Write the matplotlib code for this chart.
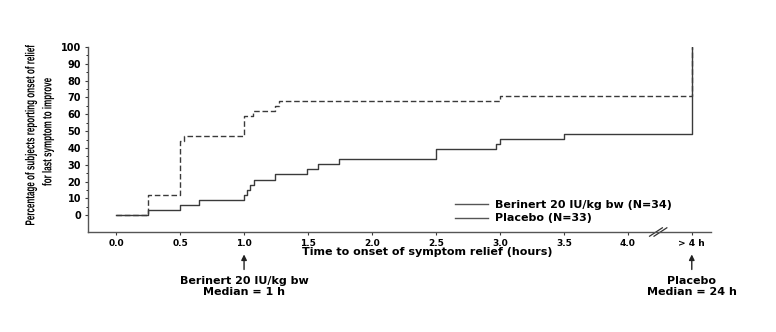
import matplotlib
matplotlib.use("Agg")
import matplotlib.pyplot as plt
import matplotlib.transforms as mtransforms
from matplotlib.lines import Line2D
from matplotlib.textpath import TextPath
from matplotlib.patches import PathPatch
from matplotlib.font_manager import FontProperties

# time to onset of relief (hours), ">4 h" placed at 4.5
ber_t = [0, 0.25, 0.5, 0.53, 1.0, 1.07, 1.24, 1.27, 3.0, 4.5]
ber_pct = [0, 11.8, 44.1, 47.1, 58.8, 61.8, 64.7, 67.6, 70.6, 100]
pla_t = [0, 0.25, 0.5, 0.65, 1.0, 1.02, 1.05, 1.08, 1.24, 1.49, 1.58, 1.74, 2.5, 2.97, 3.0, 3.5, 4.5]
pla_pct = [0, 3.0, 6.1, 9.1, 12.1, 15.2, 18.2, 21.2, 24.2, 27.3, 30.3, 33.3, 39.4, 42.4, 45.5, 48.5, 100]

xticks = [0, 0.5, 1.0, 1.5, 2.0, 2.5, 3.0, 3.5, 4.0, 4.5]
xlabels = ["0.0", "0.5", "1.0", "1.5", "2.0", "2.5", "3.0", "3.5", "4.0", "> 4 h"]
yticks = list(range(0, 101, 10))
ylabel_lines = ["Percentage of subjects reporting onset of relief", "for last symptom to improve"]

plt.rcParams['font.family'] = ['DejaVu Sans']
plt.rcParams['font.weight'] = 'bold'

fig = plt.figure(figsize=(7.76, 3.32), dpi=100)
ax = fig.add_axes([0.1134, 0.3012, 0.8028, 0.5572])

col = '#3a3a3a'
ax.plot(ber_t, ber_pct, drawstyle='steps-post', color=col, lw=1.0, ls=(0, (4, 2)))
ax.plot(pla_t, pla_pct, drawstyle='steps-post', color=col, lw=1.0)

ax.set_xlim(-0.22, 4.65)
ax.set_ylim(-10, 100)
ax.set_xticks(xticks)
ax.set_xticklabels(xlabels, fontsize=6.5, fontweight='bold')
ax.set_yticks(yticks)
ax.set_yticks(range(5, 100, 10), minor=True)
ax.set_yticklabels([str(v) for v in yticks], fontsize=7, fontweight='bold')
ax.tick_params(axis='both', length=2.5, width=0.8, colors=col, labelcolor='black', pad=2.5)
ax.tick_params(axis='y', which='minor', length=1.5, width=0.6)
for s in ['top', 'right']:
    ax.spines[s].set_visible(False)
for s in ['left', 'bottom']:
    ax.spines[s].set_color('#555555')
    ax.spines[s].set_linewidth(1.0)

ax.set_xlabel("Time to onset of symptom relief (hours)", fontsize=8, fontweight='bold')
ax.xaxis.set_label_coords(0.544, -0.081)

# condensed y label drawn as paths (pixel coords)
fp = FontProperties(family=['Liberation Sans Narrow', 'Liberation Sans'], weight='bold')
sx = None
for s, cx, cy in [(ylabel_lines[0], 31, 197), (ylabel_lines[1], 48, 200)]:
    tp = TextPath((0, 0), s, size=13, prop=fp)
    bb = tp.get_extents()
    if sx is None:
        sx = 180.0 / bb.width
    tr = (mtransforms.Affine2D()
          .translate(-(bb.x0 + bb.width / 2), -(bb.y0 + bb.height / 2))
          .scale(sx, 1).rotate_deg(90).translate(cx, cy))
    fig.add_artist(PathPatch(tr.transform_path(tp), transform=mtransforms.IdentityTransform(),
                             facecolor='black', edgecolor='none'))

# axis break marks
for dx in (0.0, 0.035):
    ax.plot([4.17 + dx, 4.27 + dx], [-12.5, -7.5], color='#333333', lw=0.9, clip_on=False)

handles = [Line2D([], [], color='#555555', lw=1.0), Line2D([], [], color='#555555', lw=1.0)]
fig.legend(handles, ["Berinert 20 IU/kg bw (N=34)", "Placebo (N=33)"],
           loc='upper left', bbox_to_anchor=(0.579, 0.414), frameon=False,
           handlelength=3.0, handletextpad=0.6, labelspacing=0.3,
           borderpad=0, prop={'weight': 'bold', 'size': 8})

trans = mtransforms.blended_transform_factory(ax.transData, fig.transFigure)
for x, txt in [(1.0, "Berinert 20 IU/kg bw\nMedian = 1 h"), (4.5, "Placebo\nMedian = 24 h")]:
    ax.annotate("", xy=(x, 0.242), xycoords=trans,
                xytext=(x, 0.180), textcoords=trans,
                arrowprops=dict(arrowstyle='-|>', color='#222222', lw=1.0, mutation_scale=8))
    ax.text(x, 0.170, txt, transform=trans,
            ha='center', va='top', fontsize=8, fontweight='bold', linespacing=1.15)

fig.savefig("out.png", dpi=100)
